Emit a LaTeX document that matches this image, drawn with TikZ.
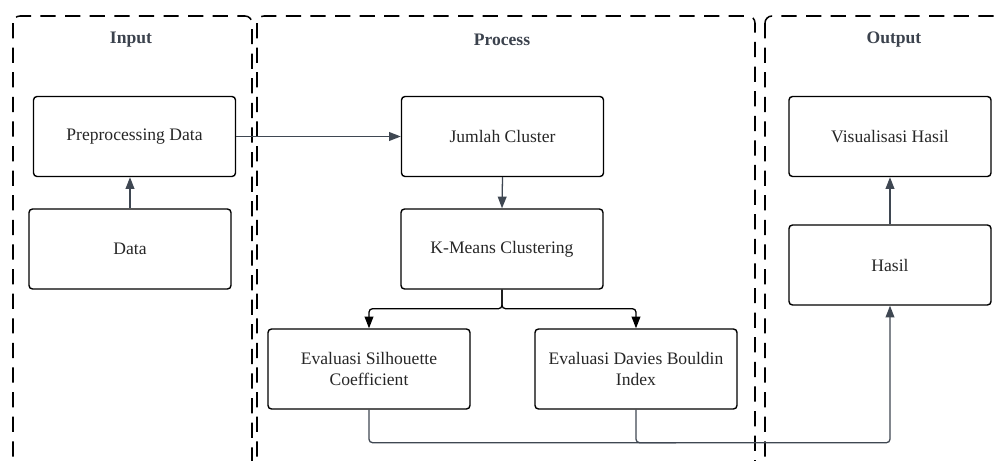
\documentclass[tikz,border=0pt]{standalone}
\usepackage{fontspec}
\setmainfont{Liberation Serif}
\usetikzlibrary{arrows.meta}
\definecolor{lanegray}{HTML}{3B424D}
\definecolor{linkgray}{HTML}{3F4752}

\begin{document}
\begin{tikzpicture}[x=0.03cm,y=-0.03cm,
  box/.style={draw=black,line width=1.2pt,rounded corners=3pt,minimum width=6.06cm,minimum height=2.4cm,align=center,font=\fontsize{15}{18}\selectfont,text=black!85},
  lane/.style={draw=black,line width=1.3pt,dash pattern=on 13pt off 8pt,rounded corners=6pt},
  title/.style={font=\fontsize{15}{18}\selectfont\bfseries,text=lanegray},
  link/.style={draw=linkgray,line width=1.1pt,-{Triangle[length=10pt,width=7.5pt]}},
  branch/.style={draw=black,line width=1.1pt,rounded corners=3pt,-{Triangle[length=10pt,width=7.5pt]}}]
\useasboundingbox (0,0) rectangle (1000,461);
\clip (0,0) rectangle (1000,461);

% lanes
\draw[lane] (13,16) rectangle (252,520);
\draw[lane] (257,16) rectangle (755,520);
\draw[lane] (765,16) rectangle (1060,520);
\node[title] (inT) at (131,40) {Input};
\node[title] (procT) at (502,40) {Process};
\node[title] (outT) at (894,40) {Output};

% input
\node[box] (prep) at (134.5,136.5) {Preprocessing Data};
\node[box] (data) at (130,249) {Data};
% process
\node[box] (jumlah) at (502.5,136.5) {Jumlah Cluster};
\node[box] (kmeans) at (502,249) {K-Means Clustering};
\node[box] (sil) at (369,369) {Evaluasi Silhouette\\Coefficient};
\node[box] (dbi) at (636,369) {Evaluasi Davies Bouldin\\Index};
% output
\node[box] (vis) at (890,136.5) {Visualisasi Hasil};
\node[box] (hasil) at (890,265) {Hasil};

% connectors
\draw[link] (data.north) -- (data.north |- prep.south);
\draw[link] (prep.east) -- (jumlah.west);
\draw[link] (jumlah.south) -- (kmeans.north);
\draw[branch] (kmeans.south) -- ++(0,19) -| (sil.north);
\draw[branch] (kmeans.south) -- ++(0,19) -| (dbi.north);
\draw[link,rounded corners=3pt] (sil.south) -- ++(0,33) -| (hasil.south);
\draw[linkgray,line width=1.1pt,rounded corners=3pt] (dbi.south) -- ++(0,33) -- ++(40,0);
\draw[link] (hasil.north) -- (vis.south);
\end{tikzpicture}
\end{document}
